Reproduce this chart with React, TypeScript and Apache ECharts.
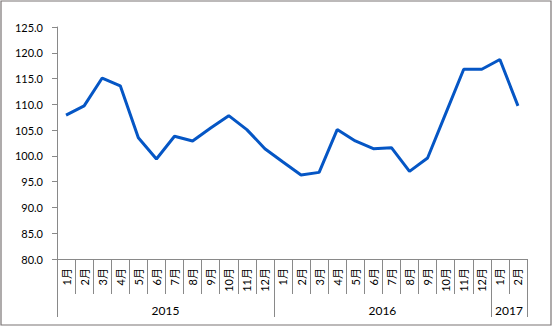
import React, { useEffect, useRef } from "react";
import * as echarts from "echarts";

const monthLabels = [
  "1月", "2月", "3月", "4月", "5月", "6月", "7月", "8月", "9月", "10月", "11月", "12月",
  "1月", "2月", "3月", "4月", "5月", "6月", "7月", "8月", "9月", "10月", "11月", "12月",
  "1月", "2月",
];
const values = [
  107.9, 109.7, 115.1, 113.6, 103.5, 99.4, 103.8, 102.9, 105.4, 107.8, 105.1, 101.4,
  98.8, 96.3, 96.8, 105.1, 102.9, 101.4, 101.6, 97.0, 99.6, 108.2, 116.8, 116.8,
  118.7, 109.7,
];
const years = ["2015", "2016", "2017"];
const yearCounts = [12, 12, 2];
const yTicks = { min: 80, max: 125, interval: 5 };

const FONT = "Lato, 'Noto Sans CJK SC', sans-serif";
const AXIS_COLOR = "#898989";

export default function App() {
  const ref = useRef<HTMLDivElement>(null);
  useEffect(() => {
    if (!ref.current) return;
    const chart = echarts.init(ref.current, undefined, { renderer: "svg" });
    // year group boundaries and centres
    const bounds: number[] = [0];
    const centres: number[] = [];
    let acc = 0;
    yearCounts.forEach((c) => {
      centres.push(acc + c / 2);
      acc += c;
      bounds.push(acc);
    });
    chart.setOption({
      animation: false,
      grid: { left: 57, right: 26, top: 27, bottom: 68 },
      graphic: [
        {
          type: "rect",
          shape: { x: 1, y: 1, width: 550, height: 324 },
          style: { fill: "none", stroke: "#7a7474", lineWidth: 1.2 },
          silent: true,
        },
      ],
      xAxis: [
        {
          type: "category",
          data: monthLabels,
          boundaryGap: true,
          axisLine: { show: true, lineStyle: { color: AXIS_COLOR, width: 1 } },
          axisTick: { show: true, interval: 0, length: 35, lineStyle: { color: AXIS_COLOR } },
          axisLabel: {
            interval: 0,
            rotate: 90,
            margin: 9,
            fontSize: 11,
            color: "#000",
            fontFamily: FONT,
          },
          splitLine: { show: false },
        },
        {
          type: "value",
          min: 0,
          max: yearCounts.reduce((a, b) => a + b, 0),
          position: "bottom",
          axisLine: { show: false },
          axisTick: {
            show: true,
            customValues: bounds,
            length: 58,
            lineStyle: { color: AXIS_COLOR },
          },
          axisLabel: {
            customValues: centres,
            margin: 45,
            fontSize: 12,
            color: "#000",
            fontFamily: FONT,
            formatter: (v: number) => {
              const i = centres.findIndex((c) => Math.abs(c - v) < 1e-6);
              return i >= 0 ? years[i] : "";
            },
          },
          splitLine: { show: false },
        },
      ],
      yAxis: {
        type: "value",
        min: yTicks.min,
        max: yTicks.max,
        interval: yTicks.interval,
        axisLine: { show: true, lineStyle: { color: AXIS_COLOR } },
        axisTick: { show: true, length: 5, lineStyle: { color: AXIS_COLOR } },
        axisLabel: {
          margin: 14,
          fontSize: 11,
          color: "#000",
          fontFamily: FONT,
          formatter: (v: number) => v.toFixed(1),
        },
        splitLine: { show: false },
      },
      series: [
        {
          type: "line",
          xAxisIndex: 0,
          data: values,
          symbol: "none",
          lineStyle: { color: "#0556C5", width: 3 },
          itemStyle: { color: "#0556C5" },
        },
      ],
    });
    return () => chart.dispose();
  }, []);
  return (
    <div
      ref={ref}
      style={{ position: "fixed", left: 0, top: 0, width: 553, height: 327, background: "#fff" }}
    />
  );
}
